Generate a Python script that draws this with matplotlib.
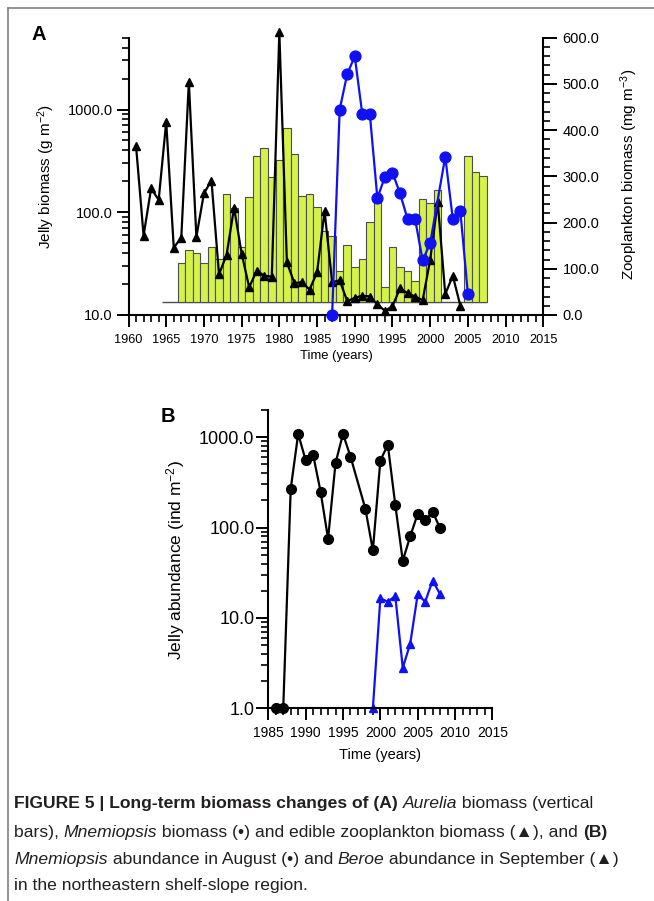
import numpy as np
import matplotlib
matplotlib.use('Agg')
import matplotlib.pyplot as plt
from matplotlib.ticker import FixedLocator, MultipleLocator, LogLocator, NullFormatter, FormatStrFormatter
from matplotlib.lines import Line2D

plt.rcParams['font.family'] = ['Liberation Sans', 'DejaVu Sans']
plt.rcParams['mathtext.fontset'] = 'custom'
plt.rcParams['mathtext.rm'] = 'Liberation Sans'
plt.rcParams['mathtext.it'] = 'Liberation Sans:italic'
plt.rcParams['mathtext.bf'] = 'Liberation Sans:bold'

# ---- panel A data ----
# Aurelia biomass (bars, g m-2, log axis)
aurelia_years = list(range(1967, 2002)) + [2005, 2006, 2007]
aurelia_biomass = [32.3, 42.7, 40.1, 32.3, 45.6, 34.8, 150, 110, 45.6, 142,
                   353, 420, 219, 325, 658, 367, 143, 152, 113, 65,
                   59, 27, 48, 29, 35, 80, 127, 18.6, 45.6, 29.3,
                   27, 21.4, 135, 124, 166, 353, 247, 227]
bar_base = 13.5

# Mnemiopsis biomass (blue circles, g m-2, log axis)
mnemi_years = [1987, 1988, 1989, 1990, 1991, 1992, 1993, 1994, 1995, 1996,
               1997, 1998, 1999, 2000, 2002, 2003, 2004, 2005]
mnemi_biomass = [10, 1000, 2210, 3300, 900, 900, 137, 222, 243, 153,
                 86, 86, 34, 50, 347, 86, 103, 16]

# edible zooplankton biomass (black triangles, mg m-3, right axis)
zoo_years = list(range(1961, 2005))
zoo_biomass = [366, 172, 274, 249, 418, 146, 167, 504, 169, 263,
               291, 88, 130, 232, 133, 60, 96, 85, 83, 612,
               114, 69, 71, 55, 92, 225, 71, 75, 30, 37,
               42, 40, 23, 9, 19, 58, 47, 40, 32, 119,
               245, 45, 85, 20]

# ---- panel B data ----
mnab_years = [1986, 1987, 1988, 1989, 1990, 1991, 1992, 1993, 1994, 1995, 1996,
              1998, 1999, 2000, 2001, 2002, 2003, 2004, 2005, 2006, 2007, 2008]
mnab_values = [1.0, 1.0, 268, 1087, 557, 638, 250, 75, 517, 1087, 611,
               161, 56, 552, 824, 178, 43, 80, 142, 120, 150, 98]
beroe_years = [1999, 2000, 2001, 2002, 2003, 2004, 2005, 2006, 2007, 2008]
beroe_values = [1.0, 16.5, 15.1, 17.5, 2.8, 5.2, 18.3, 15.1, 25.9, 18.3]

caption = [
    [("FIGURE 5 | Long-term biomass changes of (A) ", "bold", "normal"),
     ("Aurelia", "normal", "italic"), (" biomass (vertical", "normal", "normal")],
    [("bars), ", "normal", "normal"), ("Mnemiopsis", "normal", "italic"),
     (" biomass (\u2022) and edible zooplankton biomass (\u25b2), and ", "normal", "normal"),
     ("(B)", "bold", "normal")],
    [("Mnemiopsis", "normal", "italic"), (" abundance in August (\u2022) and ", "normal", "normal"),
     ("Beroe", "normal", "italic"), (" abundance in September (\u25b2)", "normal", "normal")],
    [("in the northeastern shelf-slope region.", "normal", "normal")],
]

W, H = 654, 901
fig = plt.figure(figsize=(W / 100, H / 100), dpi=100)
BLUE = '#1010f5'
BAR = '#d5f24a'


def style_axis(a, ysize, xsize):
    a.tick_params(which='major', direction='out', length=8.5, width=1.4, labelsize=ysize, pad=3)
    a.tick_params(which='minor', direction='out', length=5, width=1.2)
    a.tick_params(axis='x', labelsize=xsize, pad=5.5)
    for s in a.spines.values():
        s.set_linewidth(1.5)


# ---------- panel A ----------
ax = fig.add_axes([128.5 / W, 1 - 315 / H, 414.8 / W, 277.3 / H])
ax.set_yscale('log')
ax.set_xlim(1960, 2015)
ax.set_ylim(10, 5000)
ax.bar(aurelia_years, np.array(aurelia_biomass) - bar_base, bottom=bar_base, width=1.0,
       color=BAR, edgecolor='#4d4d4d', linewidth=0.8, zorder=2)
ax.hlines(bar_base, 1964.4, 2007.5, color='#4d4d4d', lw=1.0, zorder=1)
ax.spines['top'].set_visible(False)
ax.spines['right'].set_visible(False)
ax.yaxis.set_major_locator(FixedLocator([10, 100, 1000]))
ax.yaxis.set_major_formatter(FormatStrFormatter('%.1f'))
ax.yaxis.set_minor_locator(LogLocator(base=10, subs=np.arange(2, 10)))
ax.yaxis.set_minor_formatter(NullFormatter())
ax.xaxis.set_major_locator(MultipleLocator(5))
ax.xaxis.set_minor_locator(MultipleLocator(1))
style_axis(ax, 10.5, 9.2)
ax.set_xlabel('Time (years)', fontsize=9.4)
ax.xaxis.set_label_coords(0.5, (315 - 356) / 277.3)
ax.xaxis.label.set_va('center')
ax.set_ylabel('Jelly biomass (g m$^{\\mathregular{-2}}$)', fontsize=11, va='center')
ax.yaxis.set_label_coords((46 - 128.5) / 414.8, 0.5)

ax2 = ax.twinx()
ax2.set_ylim(0, 600)
ax2.plot(zoo_years, zoo_biomass, '-^', color='black', lw=1.6, ms=6, clip_on=False)
for s in ['top', 'left', 'bottom']:
    ax2.spines[s].set_visible(False)
ax2.yaxis.set_major_locator(MultipleLocator(100))
ax2.yaxis.set_minor_locator(MultipleLocator(20))
ax2.yaxis.set_major_formatter(FormatStrFormatter('%.1f'))
style_axis(ax2, 10.5, 9.2)
ax2.tick_params(which='major', length=10, pad=4)
ax2.set_ylabel('Zooplankton biomass (mg m$^{\\mathregular{-3}}$)', fontsize=11, va='center')
ax2.yaxis.set_label_coords((629 - 128.5) / 414.8, (315 - 174) / 277.3)

ax3 = ax.twinx()
ax3.set_yscale('log')
ax3.set_ylim(10, 5000)
ax3.plot(mnemi_years, mnemi_biomass, '-o', color=BLUE, lw=1.6, ms=7.8, clip_on=False)
ax3.axis('off')

# ---------- panel B ----------
axb = fig.add_axes([268.3 / W, 1 - 708.3 / H, 224.1 / W, 298.3 / H])
axb.set_yscale('log')
axb.set_xlim(1985, 2015)
axb.set_ylim(1, 2000)
axb.plot(mnab_years, mnab_values, '-o', color='black', lw=1.6, ms=7, clip_on=False)
axb.plot(beroe_years, beroe_values, '-^', color=BLUE, lw=1.6, ms=5.5, clip_on=False)
axb.spines['top'].set_visible(False)
axb.spines['right'].set_visible(False)
axb.yaxis.set_major_locator(FixedLocator([1, 10, 100, 1000]))
axb.yaxis.set_major_formatter(FormatStrFormatter('%.1f'))
axb.yaxis.set_minor_locator(LogLocator(base=10, subs=np.arange(2, 10)))
axb.yaxis.set_minor_formatter(NullFormatter())
axb.xaxis.set_major_locator(MultipleLocator(5))
axb.xaxis.set_minor_locator(MultipleLocator(1))
style_axis(axb, 13, 10)
axb.tick_params(axis='y', pad=1.5)
axb.tick_params(axis='x', pad=4.5)
axb.set_xlabel('Time (years)', fontsize=10.5)
axb.xaxis.set_label_coords(0.5, (708.3 - 755) / 298.3)
axb.xaxis.label.set_va('center')
axb.set_ylabel('Jelly abundance (ind m$^{\\mathregular{-2}}$)', fontsize=12.5, va='center')
axb.yaxis.set_label_coords((176 - 268.3) / 224.1, (708.3 - 560) / 298.3)

# panel letters
fig.text(38.5 / W, 1 - 35 / H, 'A', fontsize=14.5, fontweight='bold', ha='center', va='center')
fig.text(168 / W, 1 - 416.5 / H, 'B', fontsize=14.5, fontweight='bold', ha='center', va='center')

# frame lines
fig.add_artist(Line2D([8 / W, 8 / W], [0, 1 - 8 / H], color='#808080', lw=1.2))
fig.add_artist(Line2D([8 / W, 1], [1 - 8 / H, 1 - 8 / H], color='#808080', lw=1.2))

# caption with mixed styles
renderer = fig.canvas.get_renderer()
cap_size = 12.6
cap_color = '#231f20'


def advance(txt, weight, style):
    t1 = fig.text(0, 0, '|' + txt + '|', fontsize=cap_size, fontweight=weight, fontstyle=style)
    t2 = fig.text(0, 0, '||', fontsize=cap_size, fontweight=weight, fontstyle=style)
    w = t1.get_window_extent(renderer).width - t2.get_window_extent(renderer).width
    t1.remove()
    t2.remove()
    return w


baselines = [808, 836.5, 864, 890]
for line, yb in zip(caption, baselines):
    x = 14.0
    for txt, weight, style in line:
        fig.text(x / W, 1 - yb / H, txt, fontsize=cap_size, fontweight=weight,
                 fontstyle=style, color=cap_color, ha='left', va='baseline')
        x += advance(txt, weight, style)

fig.savefig('out.png', dpi=100)
